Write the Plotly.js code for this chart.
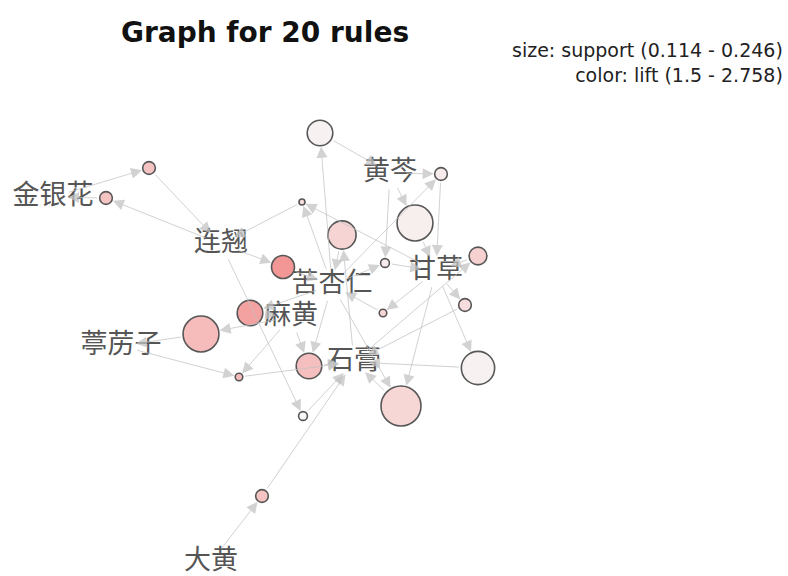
<!DOCTYPE html>
<html>
<head>
<meta charset="utf-8">
<script src="https://cdn.plot.ly/plotly-3.0.1.min.js"></script>
<style>html,body{margin:0;padding:0;background:#fff;}#chart{width:788px;height:576px;}</style>
</head>
<body>
<div id="chart"></div>
<script>
// ---- data ----
const items = ["金银花", "连翘", "黄芩", "苦杏仁", "甘草", "麻黄", "葶苈子", "石膏", "大黄"];
const itemLayoutX = [53, 221, 390, 332, 436, 291, 121, 354, 211];
const itemLayoutY = [197, 244, 173, 285, 271, 317, 346, 362, 562];

const ruleLhs = [
  ["苦杏仁"], ["金银花"], ["连翘"], ["黄芩", "苦杏仁"], ["苦杏仁", "甘草"],
  ["黄芩"], ["石膏"], ["石膏"], ["连翘"], ["黄芩", "苦杏仁"],
  ["苦杏仁"], ["麻黄"], ["甘草"], ["甘草"], ["麻黄", "苦杏仁"],
  ["葶苈子", "麻黄"], ["甘草"], ["苦杏仁", "甘草"], ["连翘"], ["大黄"]
];
const ruleRhs = ["黄芩", "连翘", "金银花", "甘草", "连翘",
  "甘草", "苦杏仁", "甘草", "苦杏仁", "甘草",
  "麻黄", "葶苈子", "苦杏仁", "石膏", "石膏",
  "石膏", "石膏", "石膏", "石膏", "石膏"];
const ruleSupport = [0.19, 0.14, 0.14, 0.14, 0.114, 0.23, 0.20, 0.16, 0.18, 0.125,
  0.19, 0.23, 0.12, 0.14, 0.19, 0.12, 0.22, 0.246, 0.125, 0.14];
const ruleLift = [1.6, 2.3, 2.3, 1.7, 1.9, 1.65, 2.05, 2.1, 2.758, 1.7,
  2.65, 2.4, 2.0, 1.9, 2.35, 2.4, 1.6, 2.0, 1.5, 2.3];
const ruleLayoutX = [320, 149, 106, 441, 302, 415, 342, 478, 283, 385,
  250, 201, 383, 465, 309, 239, 478, 401, 303, 262];
const ruleLayoutY = [133, 168, 198, 174, 202, 223, 235, 256, 267, 263,
  313, 334, 313, 305, 366, 377, 368, 406, 416, 496];

// ---- scales ----
const supMin = 0.114, supMax = 0.246, liftMin = 1.5, liftMax = 2.758;
const diam = s => 2 * (3 + (s - supMin) / (supMax - supMin) * 17);
const ruleDiam = ruleSupport.map(diam);
const itemIdx = name => items.indexOf(name);
const ITEM_GAP = 15;

const annotations = [];
function arrow(x0, y0, r0, x1, y1, r1) {
  annotations.push({
    x: x1, y: y1, ax: x0, ay: y0, xref: 'x', yref: 'y', axref: 'x', ayref: 'y',
    text: '', showarrow: true, arrowhead: 2, arrowsize: 2.2, arrowwidth: 1,
    arrowcolor: 'rgba(195,195,195,0.75)', standoff: r1, startstandoff: r0
  });
}
for (let i = 0; i < ruleLhs.length; i++) {
  const rx = ruleLayoutX[i], ry = ruleLayoutY[i], rr = ruleDiam[i] / 2 + 1;
  ruleLhs[i].forEach(n => {
    const k = itemIdx(n);
    arrow(itemLayoutX[k], itemLayoutY[k], ITEM_GAP, rx, ry, rr);
  });
  const k = itemIdx(ruleRhs[i]);
  arrow(rx, ry, rr, itemLayoutX[k], itemLayoutY[k], ITEM_GAP);
}

annotations.push({
  xref: 'paper', yref: 'paper', x: 0.996, y: 0.935, xanchor: 'right', yanchor: 'top',
  align: 'right', showarrow: false,
  text: 'size: support (' + supMin + ' - ' + supMax + ')<br>color: lift (' + liftMin + ' - ' + liftMax + ')',
  font: {family: 'DejaVu Sans, sans-serif', size: 19, color: '#222'}
});

const rulesTrace = {
  type: 'scatter', mode: 'markers', x: ruleLayoutX, y: ruleLayoutY,
  hoverinfo: 'skip',
  marker: {
    size: ruleDiam, color: ruleLift, cmin: liftMin, cmax: liftMax,
    colorscale: [[0, '#f8f5f5'], [0.15, '#f4e4e4'], [0.4, '#f4c6c6'], [0.7, '#f3a2a2'], [1, '#ee6a6a']],
    line: {color: '#111', width: 1.6}, showscale: false
  }
};
const itemsTrace = {
  type: 'scatter', mode: 'text', x: itemLayoutX, y: itemLayoutY, text: items,
  hoverinfo: 'skip',
  textfont: {family: 'Noto Sans CJK SC', size: 27, color: '#555555'}
};

const layout = {
  width: 788, height: 576, margin: {l: 0, r: 0, t: 0, b: 0},
  paper_bgcolor: '#fff', plot_bgcolor: '#fff', showlegend: false,
  xaxis: {range: [0, 788], visible: false, fixedrange: true},
  yaxis: {range: [576, 0], visible: false, fixedrange: true},
  title: {text: '<b>Graph for 20 rules</b>', x: 265 / 788, xanchor: 'center', y: 1 - 32 / 576, yanchor: 'middle',
    font: {family: 'DejaVu Sans, sans-serif', size: 28, color: '#111'}},
  annotations: annotations
};
Plotly.newPlot('chart', [rulesTrace, itemsTrace], layout, {staticPlot: true});
</script>
</body>
</html>
